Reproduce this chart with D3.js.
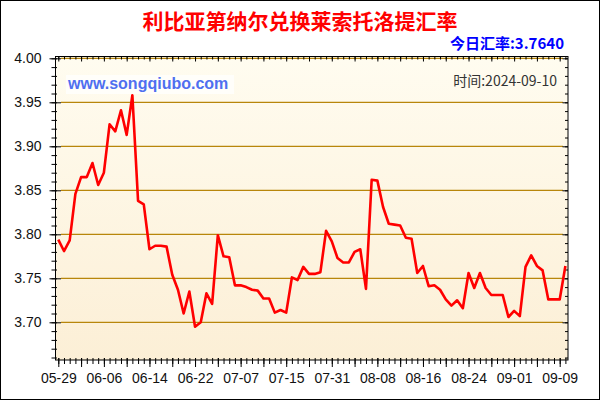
<!DOCTYPE html>
<html>
<head>
<meta charset="utf-8">
<script src="https://cdn.jsdelivr.net/npm/d3@7"></script>
<style>
body { margin: 0; background: #fff; }
svg { display: block; }
</style>
</head>
<body>
<div id="chart-container"></div>
<script>
var titleText = "利比亚第纳尔兑换莱索托洛提汇率";
var todayText = "今日汇率:3.7640";
var dateText = "时间:2024-09-10";
var siteText = "www.songqiubo.com";

// one label every 8 points
var dateLabels = ["05-29", "06-06", "06-14", "06-22", "07-07", "07-15",
    "07-31", "08-08", "08-16", "08-24", "09-01", "09-09"];

var rates = [
    3.794, 3.781, 3.793, 3.846, 3.865, 3.865, 3.881, 3.856, 3.870, 3.925,
    3.917, 3.941, 3.913, 3.958, 3.838, 3.834, 3.783, 3.787, 3.787, 3.786,
    3.754, 3.737, 3.710, 3.735, 3.695, 3.700, 3.733, 3.721, 3.799, 3.775,
    3.774, 3.742, 3.742, 3.740, 3.737, 3.736, 3.727, 3.727, 3.711, 3.714,
    3.711, 3.751, 3.748, 3.763, 3.755, 3.755, 3.757, 3.804, 3.792, 3.773,
    3.768, 3.768, 3.780, 3.783, 3.738, 3.862, 3.861, 3.831, 3.812, 3.811,
    3.810, 3.796, 3.795, 3.756, 3.764, 3.741, 3.742, 3.737, 3.726, 3.719,
    3.725, 3.716, 3.756, 3.739, 3.756, 3.739, 3.731, 3.731, 3.731, 3.706,
    3.713, 3.707, 3.763, 3.776, 3.764, 3.759, 3.726, 3.726, 3.726, 3.764
];

var yTicks = [3.70, 3.75, 3.80, 3.85, 3.90, 3.95, 4.00];

var svgWidth = 600;
var svgHeight = 400;
var plot = { left: 55.5, right: 568, top: 56.5, bottom: 360 };
var latin = "'Liberation Sans', Arial, sans-serif";
var cjk = "'Noto Sans CJK SC', 'Liberation Sans', sans-serif";

var svg = d3.select("#chart-container").append("svg")
    .attr("width", svgWidth)
    .attr("height", svgHeight);

var grad = svg.append("defs").append("linearGradient")
    .attr("id", "bg")
    .attr("x1", 0).attr("y1", 0).attr("x2", 0).attr("y2", 1);
grad.append("stop").attr("offset", "0%").attr("stop-color", "#fffcf0");
grad.append("stop").attr("offset", "100%").attr("stop-color", "#fcefd6");

svg.append("rect")
    .attr("x", 0.5).attr("y", 0.5)
    .attr("width", svgWidth - 1).attr("height", svgHeight - 1)
    .attr("fill", "#fff")
    .attr("stroke", "#000");

svg.append("rect")
    .attr("x", plot.left).attr("y", plot.top)
    .attr("width", plot.right - plot.left)
    .attr("height", plot.bottom - plot.top)
    .attr("fill", "url(#bg)");

var xScale = d3.scaleLinear().domain([0, rates.length - 1]).range([58.3, 565.4]);
var yScale = d3.scaleLinear().domain([3.66, 4.00]).range([357.5, 58.3]);

var allIdx = d3.range(rates.length);
var majorIdx = allIdx.filter(i => i % 4 === 0);
var minorY = d3.range(366, 401).map(v => v / 100);

// grid lines
svg.selectAll(".grid")
    .data(yTicks)
    .enter().append("line")
    .attr("x1", 61).attr("x2", 563)
    .attr("y1", d => yScale(d)).attr("y2", d => yScale(d))
    .attr("stroke", "#b8860b")
    .attr("stroke-width", 1.2);

function styleAxis(g) {
    g.select(".domain").remove();
    g.selectAll(".tick line").attr("stroke", "#000");
    g.selectAll("text")
        .attr("fill", "#111")
        .style("font-family", latin)
        .style("font-size", "14px");
}

// bottom axis
svg.append("g")
    .attr("transform", "translate(0," + plot.bottom + ")")
    .call(d3.axisBottom(xScale).tickValues(allIdx).tickSize(4).tickSizeOuter(0).tickFormat(""))
    .call(styleAxis)
    .selectAll(".tick line").attr("y1", -2);

svg.append("g")
    .attr("transform", "translate(0," + plot.bottom + ")")
    .call(d3.axisBottom(xScale).tickValues(majorIdx).tickSize(7).tickSizeOuter(0).tickPadding(6)
        .tickFormat(i => i % 8 === 0 ? dateLabels[i / 8] : ""))
    .call(styleAxis)
    .selectAll(".tick line").attr("y1", -2);

// top axis
svg.append("g")
    .attr("transform", "translate(0," + plot.top + ")")
    .call(d3.axisBottom(xScale).tickValues(allIdx).tickSize(3).tickSizeOuter(0).tickFormat(""))
    .call(styleAxis);

svg.append("g")
    .attr("transform", "translate(0," + plot.top + ")")
    .call(d3.axisBottom(xScale).tickValues(majorIdx).tickSize(5).tickSizeOuter(0).tickFormat(""))
    .call(styleAxis);

// left axis
svg.append("g")
    .attr("transform", "translate(" + plot.left + ",0)")
    .call(d3.axisLeft(yScale).tickValues(minorY).tickSize(4).tickSizeOuter(0).tickFormat(""))
    .call(styleAxis)
    .selectAll(".tick line").attr("x1", 1.5);

svg.append("g")
    .attr("transform", "translate(" + plot.left + ",0)")
    .call(d3.axisLeft(yScale).tickValues(yTicks).tickSize(6).tickSizeOuter(0).tickPadding(8)
        .tickFormat(d3.format(".2f")))
    .call(styleAxis)
    .selectAll(".tick line").attr("x1", 5.5);

// right axis
svg.append("g")
    .attr("transform", "translate(" + plot.right + ",0)")
    .call(d3.axisRight(yScale).tickValues(minorY).tickSize(-3).tickSizeOuter(0).tickFormat(""))
    .call(styleAxis);

svg.append("g")
    .attr("transform", "translate(" + plot.right + ",0)")
    .call(d3.axisRight(yScale).tickValues(yTicks).tickSize(-5.5).tickSizeOuter(0).tickFormat(""))
    .call(styleAxis);

// frame
svg.append("rect")
    .attr("x", plot.left).attr("y", plot.top)
    .attr("width", plot.right - plot.left)
    .attr("height", plot.bottom - plot.top)
    .attr("fill", "none")
    .attr("stroke", "#000");

// watermark
svg.append("rect")
    .attr("x", 66).attr("y", 75)
    .attr("width", 168).attr("height", 19)
    .attr("fill", "#ffffff")
    .attr("opacity", 0.7);

svg.append("text")
    .attr("x", 68).attr("y", 89)
    .style("font-family", latin)
    .style("font-size", "16px")
    .style("font-weight", "bold")
    .attr("fill", "#4f6ff0")
    .text(siteText);

svg.append("text")
    .attr("x", 557).attr("y", 86)
    .attr("text-anchor", "end")
    .style("font-family", cjk)
    .style("font-size", "14px")
    .attr("fill", "#333")
    .text(dateText);

// rate line
var line = d3.line()
    .x((d, i) => xScale(i))
    .y(d => yScale(d));

svg.append("path")
    .datum(rates)
    .attr("d", line)
    .attr("fill", "none")
    .attr("stroke", "#ff0000")
    .attr("stroke-width", 2.6)
    .attr("stroke-linejoin", "round");

// titles
svg.append("text")
    .attr("x", 300).attr("y", 29)
    .attr("text-anchor", "middle")
    .style("font-family", cjk)
    .style("font-size", "21px")
    .style("font-weight", "bold")
    .attr("fill", "#ff0000")
    .text(titleText);

svg.append("text")
    .attr("x", 564).attr("y", 49)
    .attr("text-anchor", "end")
    .style("font-family", cjk)
    .style("font-size", "15px")
    .style("font-weight", "bold")
    .attr("fill", "#0000ff")
    .text(todayText);
</script>
</body>
</html>
